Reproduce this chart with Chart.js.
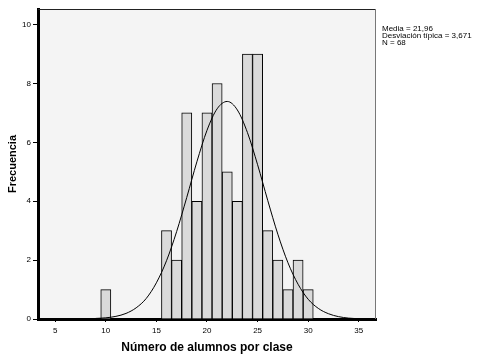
<!DOCTYPE html>
<html>
<head>
<meta charset="utf-8">
<script src="https://cdn.jsdelivr.net/npm/chart.js@4.4.0/dist/chart.umd.min.js"></script>
<style>
  html, body { margin: 0; padding: 0; background: #fff; }
</style>
</head>
<body>
<canvas id="histo" width="482" height="358"></canvas>
<script>
// histogram bins (class size) and counts
const classSizes = [10, 16, 17, 18, 19, 20, 21, 22, 23, 24, 25, 26, 27, 28, 29, 30];
const frequencies = [1, 3, 2, 7, 4, 7, 8, 5, 4, 9, 9, 3, 2, 1, 2, 1];

// normal curve
const curveX = [9, 10, 11, 12, 13, 14, 15, 16, 17, 18, 19, 20, 21, 22, 23, 24, 25, 26, 27, 28, 29, 30, 31, 32, 33, 34, 35];
const curveY = [0.02, 0.04, 0.09, 0.19, 0.38, 0.70, 1.23, 1.98, 2.97, 4.13, 5.34, 6.41, 7.14, 7.39, 7.10, 6.33, 5.24, 4.03, 2.88, 1.91, 1.18, 0.67, 0.36, 0.18, 0.08, 0.03, 0.01];

const xTicks = [5, 10, 15, 20, 25, 30, 35];
const yTicks = [0, 2, 4, 6, 8, 10];
const statsLines = ['Media = 21,96', 'Desviación típica = 3,671', 'N = 68'];

const fam = '"Liberation Sans", Arial, sans-serif';

const frame = {
    id: 'frame',
    beforeDraw(chart) {
        const { ctx, chartArea: a } = chart;
        ctx.save();
        ctx.fillStyle = '#f4f4f4';
        ctx.fillRect(a.left, a.top, a.right - a.left, a.bottom - a.top);
        ctx.restore();
    },
    afterDraw(chart) {
        const { ctx, chartArea: a } = chart;
        ctx.save();
        ctx.lineWidth = 1;
        ctx.strokeStyle = '#222';
        ctx.beginPath();
        ctx.moveTo(a.left, a.top + 0.5);
        ctx.lineTo(a.right, a.top + 0.5);
        ctx.stroke();
        ctx.strokeStyle = '#777';
        ctx.beginPath();
        ctx.moveTo(a.right - 0.5, a.top);
        ctx.lineTo(a.right - 0.5, a.bottom);
        ctx.stroke();
        // stats box text
        ctx.fillStyle = '#000';
        ctx.font = '8px ' + fam;
        ctx.textBaseline = 'middle';
        statsLines.forEach((t, i) => ctx.fillText(t, a.right + 6, 28.5 + i * 7.3));
        ctx.restore();
    }
};

new Chart(document.getElementById('histo'), {
    data: {
        datasets: [{
            type: 'bar',
            data: classSizes.map((c, i) => ({ x: c, y: frequencies[i] })),
            backgroundColor: '#dadada',
            borderColor: '#000',
            borderWidth: 1,
            barPercentage: 1,
            categoryPercentage: 1,
            order: 1
        }, {
            type: 'line',
            data: curveX.map((c, i) => ({ x: c, y: curveY[i] })),
            borderColor: '#000',
            borderWidth: 1,
            pointRadius: 0,
            cubicInterpolationMode: 'monotone',
            fill: false,
            order: 0
        }]
    },
    options: {
        responsive: false,
        animation: false,
        layout: { padding: { left: 0, top: 9, right: 106, bottom: 0 } },
        plugins: { legend: { display: false }, tooltip: { enabled: false } },
        scales: {
            x: {
                type: 'linear',
                offset: false,
                min: 3.3,
                max: 36.7,
                afterBuildTicks: s => { s.ticks = xTicks.map(v => ({ value: v })); },
                afterFit: s => { s.height = 39; },
                grid: { offset: false, drawOnChartArea: false, drawTicks: true, tickLength: 3, color: '#000' },
                border: { display: true, color: '#000', width: 3 },
                ticks: { color: '#000', font: { family: fam, size: 8 }, padding: 4, maxRotation: 0 },
                title: {
                    display: true,
                    text: 'Número de alumnos por clase',
                    color: '#000',
                    font: { family: fam, size: 12, weight: 'bold' },
                    padding: { top: 0, bottom: 3 }
                }
            },
            y: {
                min: 0,
                max: 10.53,
                afterBuildTicks: s => { s.ticks = yTicks.map(v => ({ value: v })); },
                afterFit: s => { s.width = 38; },
                grid: { drawOnChartArea: false, drawTicks: true, tickLength: 5, color: '#000' },
                border: { display: true, color: '#000', width: 3 },
                ticks: { color: '#000', font: { family: fam, size: 8 }, padding: 2 },
                title: {
                    display: true,
                    text: 'Frecuencia',
                    color: '#000',
                    font: { family: fam, size: 11, weight: 'bold' },
                    padding: { top: 6, bottom: 0 }
                }
            }
        }
    },
    plugins: [frame]
});
</script>
</body>
</html>
